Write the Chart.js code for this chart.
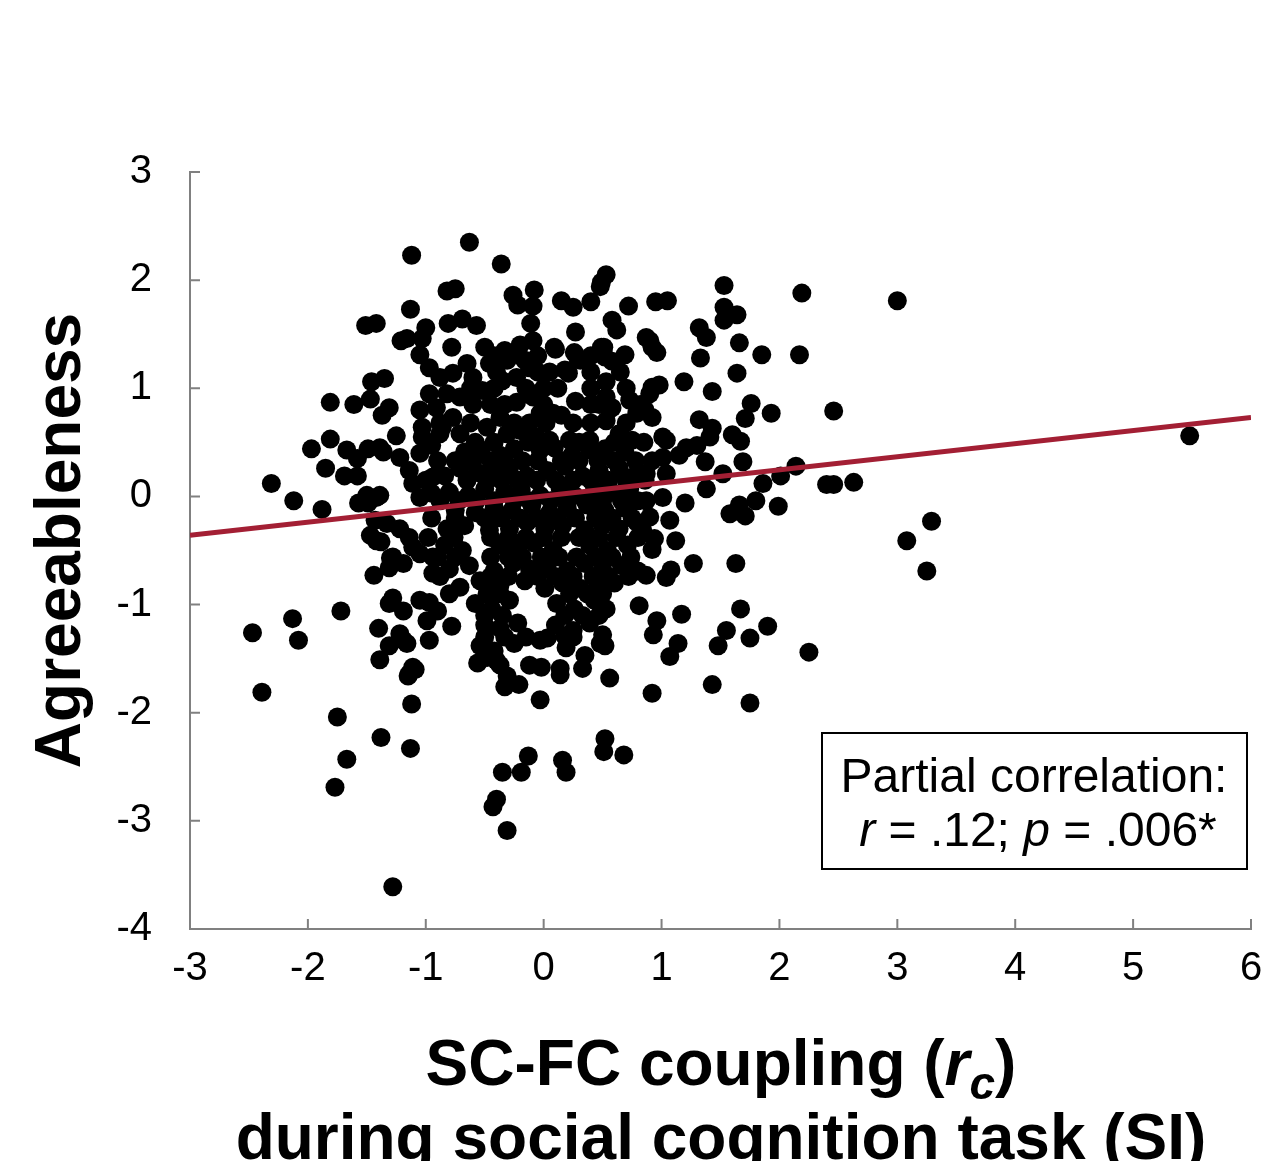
<!DOCTYPE html>
<html>
  <head>
    <title>Agreeableness vs SC-FC coupling</title>
    <style>
      html, body { margin: 0; padding: 0; background: #fff; }
      #wrap { width: 1261px; height: 1161px; }
    </style>
  </head>
  <body>
    <script src="https://cdn.jsdelivr.net/npm/chart.js@4.4.0/dist/chart.umd.min.js"></script>

    <div id="wrap"><canvas id="scatter"></canvas></div>

    <script>
      // axis ticks
      const xTicks = [-3, -2, -1, 0, 1, 2, 3, 4, 5, 6];
      const yTicks = [-4, -3, -2, -1, 0, 1, 2, 3];

      // fitted line (partial correlation r = .12)
      const lineX = [-3, 6];
      const lineY = [-0.36, 0.73];

      // subjects away from the dense middle
      const outerPoints = [
        [-1.12,2.23],[-0.63,2.35],[-0.36,2.15],[3.0,1.81],[2.19,1.88],[5.48,0.56],[3.08,-0.41],[3.29,-0.23],
        [3.25,-0.69],[2.63,0.13],[2.46,0.79],[2.40,0.11],[2.46,0.11],[2.25,-1.44],[2.17,1.31],[2.14,0.28],
        [1.99,-0.09],[2.01,0.19],[1.93,0.77],[1.90,-1.20],[1.75,-1.91],[1.75,-1.31],[1.85,1.31],[1.67,-1.04],
        [1.43,-1.74],[1.48,-1.38],[1.55,-1.24],[1.63,-0.62],[1.53,1.75],[1.53,1.95],[1.64,1.68],[1.66,1.42],
        [1.64,1.14],[1.71,0.72],[1.76,0.86],[1.67,0.51],[1.60,0.57],[1.69,0.32],[1.71,-0.18],[1.58,-0.16],
        [1.80,-0.04],[1.86,0.12],[0.92,-1.82],[0.93,-1.28],[0.96,-1.15],[1.07,-1.48],[1.14,-1.36],[1.17,-1.09],
        [1.27,-0.62],[1.04,-0.75],[1.08,-0.68],[0.92,-0.49],[0.94,-0.39],[1.12,-0.41],[1.20,-0.06],[1.38,0.07],
        [1.37,0.32],[1.41,0.55],[1.43,0.97],[1.33,1.28],[1.32,1.56],[1.19,1.06],[1.05,1.81],[0.95,1.80],
        [1.01,0.55],[0.68,-2.39],[0.51,-2.36],[0.52,-2.24],[0.16,-2.44],[0.19,-2.55],[0.56,-1.68],[-0.13,-2.40],
        [-0.19,-2.55],[-0.35,-2.55],[-0.40,-2.80],[-0.43,-2.87],[-0.31,-3.09],[-1.28,-3.61],[-0.03,-1.88],[-0.02,-1.58],
        [-0.33,-1.76],[-0.21,-1.74],[-0.48,-1.49],[0.03,-1.31],[0.19,-1.40],[0.18,-1.29],[0.33,-1.59],[0.48,-1.36],
        [0.50,-1.28],[0.53,-1.04],[0.14,-1.65],[-2.47,-1.26],[-2.39,-1.81],[-2.13,-1.13],[-2.08,-1.33],[-1.75,-2.04],
        [-1.67,-2.43],[-1.77,-2.69],[-1.72,-1.06],[-1.38,-2.23],[-1.13,-2.33],[-1.12,-1.92],[-1.14,-1.64],[-1.40,-1.22],
        [-1.39,-1.51],[-1.28,-0.94],[-1.19,-1.33],[-0.97,-1.33],[-0.97,-0.98],[-0.90,-1.06],[-0.78,-1.20],[-2.31,0.12],
        [-2.12,-0.04],[-1.88,-0.12],[-1.97,0.44],[-1.85,0.26],[-1.81,0.53],[-1.81,0.87],[-1.69,0.19],[-1.58,0.35],
        [-1.57,-0.06],[-1.61,0.85],[-1.51,1.58],[-1.42,1.60],[-1.46,1.06],[-1.47,0.90],[-1.49,0.44],[-1.43,-0.22],
        [-1.44,-0.73],[-1.38,-0.42],[-1.30,-0.57],[-1.39,0.01],[-1.13,1.73],[-1.21,1.44],[-1.05,1.31],[-1.00,1.56],
        [-0.82,1.90],[-0.81,1.60],[-0.69,1.64],[-0.57,1.58],[-0.26,1.86],[-0.08,1.91],[-0.09,1.76],[-0.11,1.60],
        [-0.22,1.34],[0.15,1.81],[0.25,1.75],[0.27,1.52],[0.40,1.80],[0.48,1.94],[0.53,2.05],[0.58,1.63],
        [0.72,1.76],[0.51,1.38],[0.58,1.25],[0.69,1.31],[0.29,1.28],[0.21,1.14],[0.10,1.36],[0.90,1.44],
        [0.96,1.33],[0.90,0.95],[0.27,0.88],[-0.75,1.92],[-0.22,1.77],[0.49,1.98],[0.62,1.54],[-1.16,1.46],
        [-1.03,1.46],[-0.97,1.19],[-1.35,1.09],[-1.31,0.82],[-1.37,0.75],[-0.97,0.95],[-1.05,0.80],[-0.91,0.82],
        [-1.03,0.64],[-1.03,0.55],[-1.25,0.56],[-1.67,0.43],[-1.39,0.45],[-0.88,0.58],[-1.15,-1.66],[-1.09,-1.60],
        [-0.40,-1.52],[-0.31,-1.66],[1.53,1.63],[1.38,1.47],[0.87,1.47],[0.92,1.38],[0.92,1.01],[0.98,1.03],
        [0.86,0.80],[0.92,0.73],[1.32,0.71],[1.43,0.63],[1.21,0.45],[1.04,0.52],[1.30,0.47],[1.01,0.36],
        [1.15,0.38],[1.52,0.21],[0.87,0.21],[1.04,0.21],[0.87,-0.04],[1.01,-0.01],[1.07,-0.22],[0.90,-0.19],
        [1.66,-0.08],[0.84,-0.31],[0.87,-0.73]
      ];

      // subjects in the crowded middle of the cloud
      const corePoints = [
        [-0.78,1.38],[-0.50,1.38],[-0.33,1.35],[-0.20,1.40],[-0.09,1.44],[0.09,1.38],[0.26,1.33],[0.31,1.26],
        [0.18,1.17],[0.49,1.38],[0.52,1.29],[0.53,1.06],[-0.65,1.23],[-0.77,1.14],[-0.60,1.10],[-0.46,1.23],
        [-0.31,1.26],[-0.16,1.26],[-0.12,1.19],[-0.35,1.07],[-0.23,1.10],[-0.52,0.98],[-0.71,0.92],[-0.82,0.95],
        [-0.88,1.10],[-0.09,0.92],[-0.23,0.87],[-0.03,0.77],[0.08,0.77],[0.15,0.75],[-0.37,0.73],[-0.48,0.64],
        [-0.77,0.73],[-0.71,0.58],[-0.86,0.64],[-0.31,0.58],[-0.20,0.61],[-0.06,0.55],[0.05,0.52],[0.22,0.52],
        [0.39,0.52],[0.53,0.92],[0.58,0.82],[0.73,0.89],[0.79,0.77],[0.53,0.70],[0.64,0.58],[0.75,0.52],
        [-1.36,0.41],[-1.22,0.36],[-1.05,0.40],[-0.95,0.47],[-1.58,0.19],[-1.50,0.01],[-1.42,-0.01],[-1.49,-0.06],
        [-1.14,0.24],[-1.11,0.12],[-1.05,-0.01],[-0.94,0.18],[-0.95,0.03],[-1.47,-0.36],[-1.42,-0.41],[-1.33,-0.25],
        [-1.22,-0.30],[-1.14,-0.38],[-1.11,-0.47],[-1.28,-0.56],[-1.31,-0.66],[-1.19,-0.62],[-1.05,-0.53],[-0.94,-0.56],
        [-0.94,-0.71],[-1.31,-0.99],[-1.19,-1.06],[-1.05,-0.96],[-0.99,-1.15],[-1.22,-1.27],[-1.16,-1.36],[-1.31,-1.38],
        [-1.11,-1.58],
        [-0.67,0.41],[-0.53,0.43],[-0.37,0.38],[-0.25,0.44],[-0.03,0.43],[0.09,0.45],[0.24,0.38],[0.39,0.43],
        [0.52,0.44],[0.69,0.41],[-0.84,0.19],[-0.71,0.26],[-0.56,0.22],[-0.42,0.24],[-0.29,0.26],[-0.14,0.19],
        [0.03,0.24],[0.18,0.28],[0.33,0.19],[0.47,0.24],[0.64,0.26],[0.77,0.19],[-0.80,0.04],[-0.64,0.01],
        [-0.50,0.07],[-0.33,0.04],[-0.19,0.06],[-0.03,0.01],[0.14,0.07],[0.26,0.01],[0.43,0.06],[0.58,0.04],
        [0.73,0.07],[-0.75,-0.13],[-0.58,-0.15],[-0.42,-0.11],[-0.27,-0.13],[-0.10,-0.08],[0.05,-0.15],[0.20,-0.11],
        [0.37,-0.08],[0.52,-0.13],[0.69,-0.11],[-0.82,-0.30],[-0.67,-0.27],[-0.46,-0.31],[-0.29,-0.30],[-0.14,-0.24],
        [0.01,-0.30],[0.16,-0.27],[0.35,-0.31],[0.50,-0.27],[0.64,-0.30],[0.79,-0.24],[-0.84,-0.45],[-0.69,-0.50],
        [-0.37,-0.45],[-0.22,-0.48],[-0.08,-0.43],[0.08,-0.50],[0.39,-0.45],[0.54,-0.50],[0.71,-0.45],[-0.80,-0.67],
        [-0.63,-0.64],[-0.42,-0.69],[-0.26,-0.62],[-0.12,-0.67],[0.03,-0.64],[0.20,-0.69],[0.35,-0.62],[0.50,-0.67],
        [0.66,-0.64],[0.80,-0.69],[-0.71,-0.84],[-0.54,-0.78],[-0.37,-0.82],[-0.16,-0.78],[0.01,-0.85],[0.16,-0.80],
        [0.31,-0.85],[0.46,-0.82],[0.60,-0.80],[-0.58,-0.99],[-0.44,-1.04],[-0.29,-0.96],[0.11,-0.99],[0.26,-1.04],
        [0.43,-0.96],[0.81,-1.01],[-0.50,-1.19],[-0.37,-1.22],[-0.22,-1.17],[0.10,-1.19],[0.25,-1.24],[0.39,-1.17],
        [-0.54,-1.38],[-0.42,-1.43],[-0.25,-1.36],[-0.03,-1.33],[0.35,-1.47],[0.52,-1.38],[-0.56,-1.54],[-0.37,-1.56],
        [-0.12,-1.56],[0.14,-1.59]
      ];

      // further subjects hidden in the solid black centre
      const hiddenPoints = [
        [-0.42,1.30],[-0.05,1.30],[0.40,1.30],
        [-0.40,1.15],[-0.05,1.15],[0.05,1.15],[0.40,1.15],[0.65,1.15],
        [-0.62,1.00],[-0.42,1.00],[-0.15,1.00],[0.00,1.00],[0.12,1.00],[0.40,1.00],[0.70,1.00],
        [-0.60,0.85],[-0.45,0.85],[-0.33,0.85],[0.00,0.85],[0.40,0.85],[0.47,0.85],[0.82,0.85],
        [-0.88,0.68],[-0.62,0.68],[-0.25,0.68],[-0.12,0.68],[0.02,0.68],[0.25,0.68],[0.40,0.68],[0.70,0.68],
        [-0.58,0.50],[-0.42,0.50],[-0.13,0.50],[0.30,0.50],[0.60,0.50],[0.85,0.50],
        [-0.90,0.33],[-0.75,0.33],[-0.60,0.33],[-0.45,0.33],[-0.33,0.33],[-0.18,0.33],[-0.05,0.33],[0.15,0.33],
        [0.30,0.33],[0.46,0.33],[0.60,0.33],[0.78,0.33],[0.92,0.33],
        [-1.00,0.15],[-0.65,0.15],[-0.48,0.15],[-0.36,0.15],[-0.22,0.15],[-0.06,0.15],[0.10,0.15],[0.25,0.15],
        [0.40,0.15],[0.55,0.15],[0.70,0.15],[0.86,0.15],
        [-0.88,-0.04],[-0.72,-0.04],[-0.57,-0.04],[-0.42,-0.04],[-0.25,-0.04],[-0.12,-0.04],[0.06,-0.04],[0.20,-0.04],
        [0.35,-0.04],[0.50,-0.04],[0.66,-0.04],[0.80,-0.04],
        [-0.95,-0.20],[-0.75,-0.20],[-0.50,-0.20],[-0.36,-0.20],[-0.20,-0.20],[-0.06,-0.20],[0.10,-0.20],[0.27,-0.20],
        [0.44,-0.20],[0.58,-0.20],[0.75,-0.20],
        [-0.98,-0.38],[-0.76,-0.38],[-0.45,-0.38],[-0.30,-0.38],[-0.15,-0.38],[0.00,-0.38],[0.15,-0.38],[0.30,-0.38],
        [0.47,-0.38],[0.62,-0.38],[0.80,-0.38],
        [-0.90,-0.56],[-0.75,-0.56],[-0.45,-0.56],[-0.30,-0.56],[-0.18,-0.56],[-0.02,-0.56],[0.13,-0.56],[0.28,-0.56],
        [0.44,-0.56],[0.58,-0.56],[0.74,-0.56],
        [-0.88,-0.74],[-0.45,-0.74],[-0.30,-0.74],[-0.05,-0.74],[0.10,-0.74],[0.25,-0.74],[0.42,-0.74],[0.55,-0.74],
        [0.72,-0.74],
        [-0.80,-0.90],[-0.48,-0.90],[-0.37,-0.90],[0.22,-0.90],[0.37,-0.90],[0.50,-0.90],
        [-0.50,-1.10],[-0.35,-1.10],[0.18,-1.10],[0.33,-1.10],[0.47,-1.10],
        [-0.50,-1.30],[-0.33,-1.30],[-0.15,-1.30],[0.25,-1.30]
      ];

      const allPoints = outerPoints.concat(corePoints, hiddenPoints).map(p => ({ x: p[0], y: p[1] }));
      const linePoints = lineX.map((x, i) => ({ x: x, y: lineY[i] }));

      const FONT = "'Liberation Sans', Arial, sans-serif";

      // inward tick marks, axis titles and the stats box
      const decorations = {
        id: "decorations",
        afterDatasetsDraw(chart) {
          const ctx = chart.ctx;
          const area = chart.chartArea;
          const xs = chart.scales.x;
          const ys = chart.scales.y;

          ctx.save();
          ctx.strokeStyle = "#808080";
          ctx.lineWidth = 2;
          ctx.beginPath();
          yTicks.forEach(v => {
            const py = ys.getPixelForValue(v);
            ctx.moveTo(area.left, py);
            ctx.lineTo(area.left + 10, py);
          });
          xTicks.forEach(v => {
            const px = xs.getPixelForValue(v);
            ctx.moveTo(px, area.bottom);
            ctx.lineTo(px, area.bottom - 10);
          });
          ctx.stroke();

          // y title
          ctx.fillStyle = "#000";
          ctx.save();
          ctx.translate(62, (area.top + area.bottom) / 2 - 10);
          ctx.rotate(-Math.PI / 2);
          ctx.font = "bold 64px " + FONT;
          ctx.textAlign = "center";
          ctx.textBaseline = "middle";
          ctx.fillText("Agreeableness", 0, 0);
          ctx.restore();

          // x title, line 1 with italic r and subscript c
          const cx = 721;
          const parts1 = [
            { t: "SC-FC coupling (", f: "bold 64px " + FONT, dy: 0 },
            { t: "r", f: "italic bold 64px " + FONT, dy: 0 },
            { t: "c", f: "italic bold 46px " + FONT, dy: 14 },
            { t: ")", f: "bold 64px " + FONT, dy: 0 }
          ];
          drawParts(ctx, parts1, cx, 1085);
          ctx.font = "bold 64px " + FONT;
          ctx.textAlign = "center";
          ctx.textBaseline = "alphabetic";
          ctx.fillText("during social cognition task (SI)", cx, 1159);

          // stats box
          ctx.strokeStyle = "#000";
          ctx.lineWidth = 2;
          ctx.strokeRect(822, 733, 425, 136);
          ctx.font = "48px " + FONT;
          ctx.textAlign = "center";
          ctx.fillText("Partial correlation:", 1034, 792);
          const parts2 = [
            { t: "r", f: "italic 48px " + FONT, dy: 0 },
            { t: " = .12; ", f: "48px " + FONT, dy: 0 },
            { t: "p", f: "italic 48px " + FONT, dy: 0 },
            { t: " = .006*", f: "48px " + FONT, dy: 0 }
          ];
          drawParts(ctx, parts2, 1038, 846);
          ctx.restore();
        }
      };

      function drawParts(ctx, parts, centerX, baseY) {
        let total = 0;
        parts.forEach(p => { ctx.font = p.f; p.w = ctx.measureText(p.t).width; total += p.w; });
        let x = centerX - total / 2;
        ctx.textAlign = "left";
        ctx.textBaseline = "alphabetic";
        parts.forEach(p => {
          ctx.font = p.f;
          ctx.fillText(p.t, x, baseY + p.dy);
          x += p.w;
        });
      }

      const ctx = document.getElementById("scatter").getContext("2d");

      const chart = new Chart(ctx, {
        type: "scatter",
        data: {
          datasets: [
            {
              type: "line",
              data: linePoints,
              borderColor: "#A31F34",
              borderWidth: 5,
              pointRadius: 0,
              fill: false,
              order: 0
            },
            {
              data: allPoints,
              backgroundColor: "#000",
              borderColor: "#000",
              borderWidth: 0,
              pointRadius: 9.5,
              pointHoverRadius: 9.5,
              order: 1
            }
          ]
        },
        options: {
          responsive: true,
          maintainAspectRatio: false,
          animation: false,
          events: [],
          layout: { padding: { top: 172, right: 10, left: 0, bottom: 0 } },
          plugins: {
            legend: { display: false },
            tooltip: { enabled: false }
          },
          scales: {
            x: {
              type: "linear",
              min: -3,
              max: 6,
              afterBuildTicks: s => { s.ticks = xTicks.map(v => ({ value: v })); },
              afterFit: s => {
                s.height = 1161 - 929;
                s.paddingLeft = 0;
                s.paddingRight = 0;
              },
              grid: { display: false, drawTicks: false },
              border: { display: true, color: "#808080", width: 2 },
              ticks: {
                color: "#000",
                font: { family: FONT, size: 40 },
                padding: 16,
                maxRotation: 0
              }
            },
            y: {
              type: "linear",
              min: -4,
              max: 3,
              afterBuildTicks: s => { s.ticks = yTicks.map(v => ({ value: v })); },
              afterFit: s => { s.width = 190; },
              grid: { display: false, drawTicks: false },
              border: { display: true, color: "#808080", width: 2 },
              ticks: {
                color: "#000",
                font: { family: FONT, size: 40 },
                padding: 38
              }
            }
          }
        },
        plugins: [decorations]
      });
    </script>
  </body>
</html>
